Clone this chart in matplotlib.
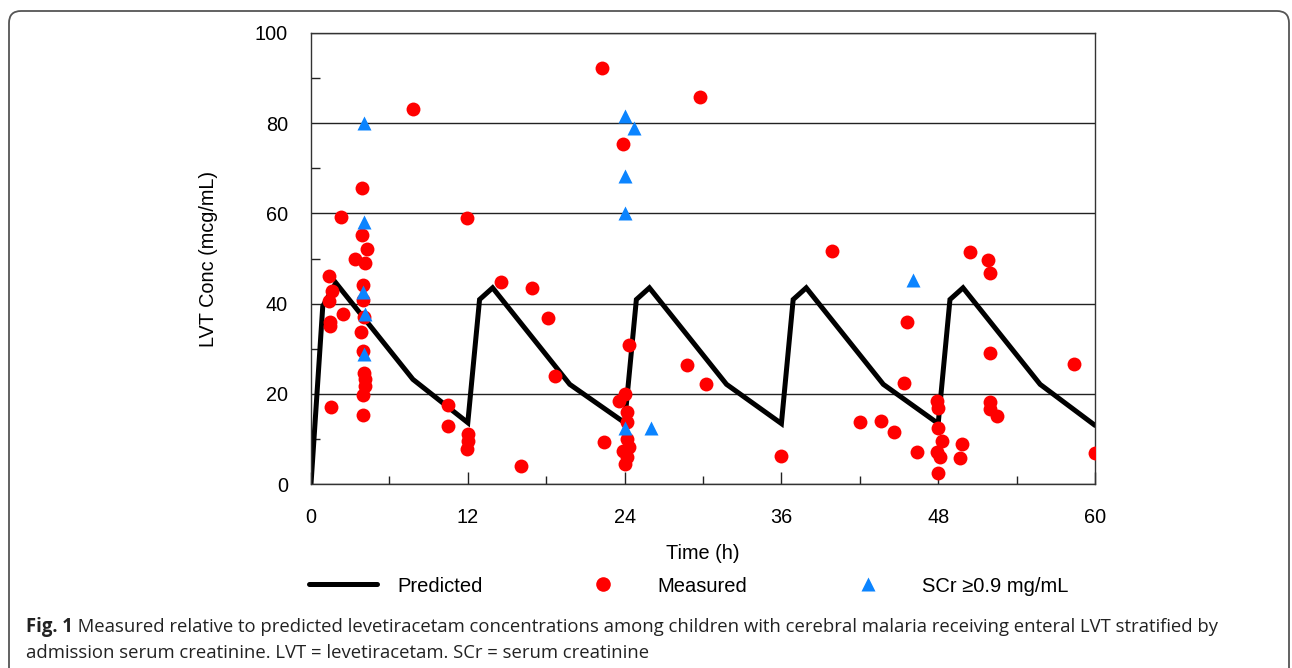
import matplotlib
matplotlib.use('Agg')
import matplotlib.pyplot as plt
from matplotlib.lines import Line2D
from matplotlib.patches import FancyBboxPatch
from matplotlib.transforms import IdentityTransform
from matplotlib import font_manager

# ---------------- data ----------------
pred_time = [0, 0.9, 1.9, 7.8, 12, 12.9, 13.9, 19.8, 24, 24.9, 25.9, 31.8,
             36, 36.9, 37.9, 43.8, 48, 48.9, 49.9, 55.8, 60]
pred_conc = [0, 39.4, 44.6, 23.2, 13.6, 40.9, 43.5, 22.1, 13.6, 40.9, 43.5, 22.1,
             13.4, 40.9, 43.5, 22.1, 13.4, 40.9, 43.5, 22.1, 13.0]

meas_time = [1.4, 1.6, 1.4, 1.45, 1.45, 1.5, 2.3, 2.45, 3.4,
             3.9, 3.9, 4.25, 4.15, 4.0, 3.95, 4.05, 3.85, 3.95, 4.05, 4.15, 4.1, 4.0, 4.0,
             7.8, 10.5, 10.5, 12.0, 12.0, 11.95, 11.95, 16.1, 14.55, 16.9, 18.1, 18.65,
             22.3, 23.85, 29.8, 24.3, 28.75, 30.25, 22.4,
             24.05, 23.6, 24.2, 24.15, 24.2, 24.3, 23.9, 24.2, 24.05,
             39.9, 50.4, 51.8, 52.0, 45.6, 52.0, 58.4, 45.4, 47.9, 48.0, 51.95, 51.95,
             52.5, 42.0, 43.6, 44.6, 48.0, 48.3, 49.8, 46.4, 47.9, 48.1, 49.7, 47.95,
             36.0, 60.0]
meas_conc = [46.2, 42.8, 40.6, 35.9, 35.0, 17.1, 59.2, 37.8, 49.8,
             65.6, 55.3, 52.0, 48.9, 44.2, 40.9, 37.0, 33.6, 29.5, 24.7, 23.2, 21.7, 19.7, 15.3,
             83.2, 17.5, 12.9, 11.1, 9.6, 7.7, 59.0, 3.9, 44.7, 43.4, 36.9, 24.0,
             92.2, 75.4, 85.7, 30.8, 26.3, 22.1, 9.4,
             19.9, 18.4, 15.9, 13.7, 10.0, 8.1, 7.4, 5.9, 4.4,
             51.6, 51.5, 49.6, 46.7, 35.9, 29.0, 26.5, 22.3, 18.4, 16.8, 18.2, 16.6,
             15.0, 13.8, 13.9, 11.6, 12.4, 9.6, 8.8, 7.2, 7.2, 5.9, 5.8, 2.4,
             6.3, 6.8]

scr_time = [4.05, 4.05, 4.0, 4.1, 4.05, 24.0, 24.7, 24.0, 24.0, 24.0, 26.0, 46.1]
scr_conc = [80.0, 58.0, 42.6, 37.6, 28.9, 81.5, 78.9, 68.2, 60.1, 12.4, 12.4, 45.2]

x_ticks = [0, 12, 24, 36, 48, 60]
x_minor = [6, 18, 30, 42, 54]
y_ticks = [0, 20, 40, 60, 80, 100]
y_minor = [10, 30, 50, 70, 90]
legend_labels = ['Predicted', 'Measured', 'SCr \u22650.9 mg/mL']
x_label = 'Time (h)'
y_label = 'LVT Conc (mcg/mL)'
caption_bold = 'Fig. 1'
caption_line1 = (' Measured relative to predicted levetiracetam concentrations among children '
                 'with cerebral malaria receiving enteral LVT stratified by')
caption_line2 = 'admission serum creatinine. LVT = levetiracetam. SCr = serum creatinine'

# ---------------- figure ----------------
W, H = 1292, 668
plt.rcParams['font.family'] = ['Liberation Sans', 'DejaVu Sans']
fig = plt.figure(figsize=(W / 100, H / 100), dpi=100)
ax = fig.add_axes([311 / W, 1 - 484 / H, 784 / W, 451 / H])

red = '#FF0000'
blue = '#0B84FF'
ax.plot(pred_time, pred_conc, color='black', lw=3.6, solid_joinstyle='miter',
        solid_capstyle='round', zorder=2)
ax.plot(meas_time, meas_conc, 'o', ms=10, color=red, mec='none', zorder=3)
ax.plot(scr_time, scr_conc, '^', ms=10.5, color=blue, mec='none', zorder=4)

ax.set_xlim(0, 60)
ax.set_ylim(0, 100)
ax.set_xticks(x_ticks)
ax.set_xticks(x_minor, minor=True)
ax.set_yticks(y_ticks)
ax.set_yticks(y_minor, minor=True)
ax.tick_params(axis='x', which='major', direction='in', length=8.6, width=1,
               pad=17, labelsize=14.3, color='#222222')
ax.tick_params(axis='x', which='minor', direction='in', length=5.8, width=1,
               color='#222222')
ax.tick_params(axis='y', which='major', length=0, pad=16.5, labelsize=14.3)
ax.tick_params(axis='y', which='minor', direction='in', length=6.5, width=1,
               color='#222222')
ax.yaxis.grid(True, which='major', color='#222222', lw=1.0, zorder=1)
ax.set_axisbelow(True)
for s in ax.spines.values():
    s.set_color('#333333')
    s.set_linewidth(1.0)

ax.set_xlabel(x_label, fontsize=14.3)
ax.xaxis.set_label_coords(0.5, -0.153)
ax.xaxis.label.set_va('center')
ax.set_ylabel(y_label, fontsize=14.3)
ax.yaxis.set_label_coords(-0.131, 0.5)
ax.yaxis.label.set_va('center')

handles = [Line2D([], [], color='black', lw=3.6, solid_capstyle='round'),
           Line2D([], [], marker='o', ls='none', color=red, mec='none', ms=10.5),
           Line2D([], [], marker='^', ls='none', color=blue, mec='none', ms=10.5)]
fig.legend(handles, legend_labels, loc='center left',
           bbox_to_anchor=(309 / W, 1 - 586 / H), ncol=3, frameon=False,
           fontsize=14.5, handlelength=3.38, handletextpad=1.0,
           columnspacing=4.3, borderpad=0, borderaxespad=0, numpoints=1)

# outer rounded border
border = FancyBboxPatch((9, -20), 1280, 677, boxstyle='round,pad=0,rounding_size=12',
                        transform=IdentityTransform(), fill=False, ec='#555555', lw=1.3)
fig.add_artist(border)

# caption
names = {f.name for f in font_manager.fontManager.ttflist}
cap_font = 'Liberation Sans Narrow' if 'Liberation Sans Narrow' in names else 'Open Sans'
base = 15.0
t_b = fig.text(26 / W, 1 - 632 / H, caption_bold, fontsize=base, fontweight='bold',
               family=[cap_font, 'DejaVu Sans'], color='#222222', va='baseline')
t_1 = fig.text(0, 1 - 632 / H, caption_line1, fontsize=base,
               family=[cap_font, 'DejaVu Sans'], color='#222222', va='baseline')
t_2 = fig.text(26 / W, 1 - 658 / H, caption_line2, fontsize=base,
               family=[cap_font, 'DejaVu Sans'], color='#222222', va='baseline')
r = fig.canvas.get_renderer()
wb = t_b.get_window_extent(r).width
w1 = t_1.get_window_extent(r).width
scale = (1218 - 26) / (wb + w1)
for t in (t_b, t_1, t_2):
    t.set_fontsize(base * scale)
wb = t_b.get_window_extent(r).width
t_1.set_x((26 + wb) / W)

fig.savefig('out.png', dpi=100)
